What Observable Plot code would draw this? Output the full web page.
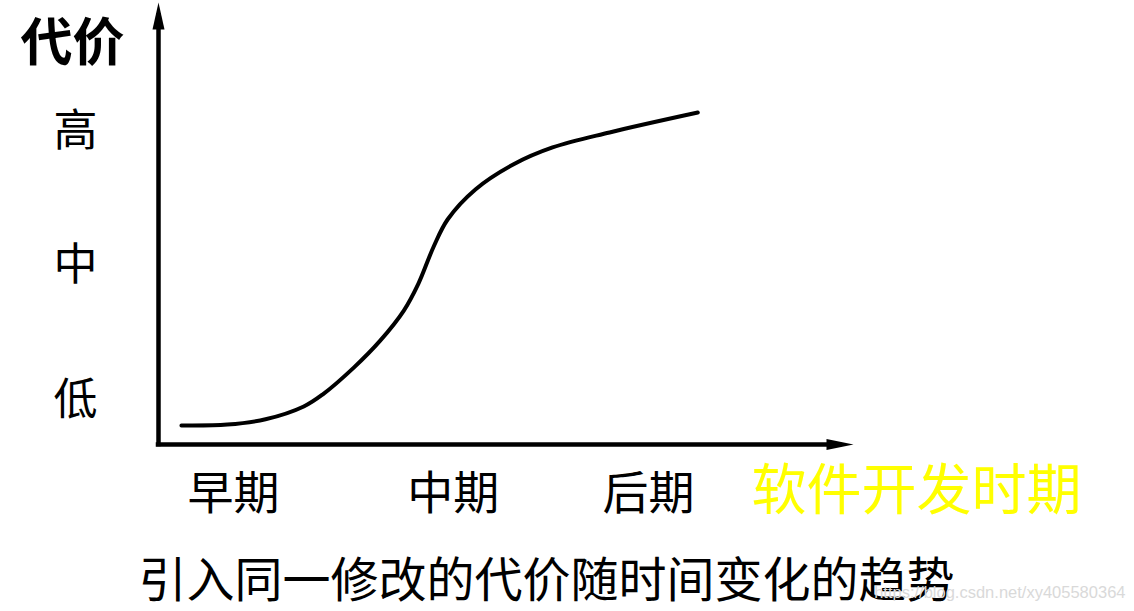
<!DOCTYPE html>
<html><head><meta charset="utf-8">
<script src="https://cdn.jsdelivr.net/npm/d3@7"></script>
<script src="https://cdn.jsdelivr.net/npm/@observablehq/plot@0.6"></script>
<style>html,body{margin:0;padding:0;background:#fff} svg{display:block}</style>
</head><body><div id="chart"></div>
<script>
// Data (x: development period, y: cost)
const periodX = [3.3, 9.9, 15.4, 20.9, 23.6, 28.1, 31.9, 35.3, 37.4, 39.6, 41.6, 45.6, 51.1, 56.7, 64.9, 77.6];
const costY   = [4.3, 4.5, 5.7, 8.6, 11.3, 17.4, 23.5, 30.3, 36.4, 44.8, 50.9, 57.7, 63.4, 67.2, 70.6, 75.1];
const yTickValues = [70.7, 40.4, 9.8];
const yTickLabels = ["高", "中", "低"];
const xTickValues = [10.8, 42.4, 70.5];
const xTickLabels = ["早期", "中期", "后期"];
const xDomain = [0, 100];
const yDomain = [0, 100];
const yAxisTitle = "代价";
const xAxisTitle = "软件开发时期";
const caption = "引入同一修改的代价随时间变化的趋势";
const watermark = "https://blog.csdn.net/xy405580364";

const curve = periodX.map((x, i) => ({x, y: costY[i]}));
const yTicks = yTickLabels.map((label, i) => ({label, y: yTickValues[i]}));
const xTicks = xTickLabels.map((label, i) => ({label, x: xTickValues[i]}));

const arrowUp = {draw(ctx) { ctx.moveTo(0, 0); ctx.lineTo(6, 27); ctx.lineTo(-6, 27); ctx.closePath(); }};
const arrowRight = {draw(ctx) { ctx.moveTo(0, 0); ctx.lineTo(-27, 5.5); ctx.lineTo(-27, -5.5); ctx.closePath(); }};

const cjk = "'Noto Sans CJK SC', 'Noto Sans', sans-serif";
const mid = {textAnchor: "middle", lineAnchor: "middle"};

const chart = Plot.plot({
  width: 1134,
  height: 611,
  marginLeft: 158,
  marginRight: 281,
  marginTop: 2,
  marginBottom: 167,
  x: {domain: xDomain, axis: null},
  y: {domain: yDomain, axis: null},
  style: {fontFamily: cjk, background: "white", color: "black"},
  marks: [
    Plot.ruleX([xDomain[0]], {y1: yDomain[0], y2: yDomain[1] - 3, stroke: "black", strokeWidth: 4.5, strokeLinecap: "square"}),
    Plot.ruleY([yDomain[0]], {x1: xDomain[0], x2: xDomain[1] - 2, stroke: "black", strokeWidth: 4.5, strokeLinecap: "square"}),
    Plot.dot([[xDomain[0], yDomain[1]]], {symbol: arrowUp, fill: "black", stroke: null}),
    Plot.dot([[xDomain[1], yDomain[0]]], {symbol: arrowRight, fill: "black", stroke: null}),
    Plot.line(curve, {x: "x", y: "y", curve: "catmull-rom", stroke: "black", strokeWidth: 4}),
    Plot.text(yTicks, {...mid, y: "y", text: "label", frameAnchor: "left", dx: -83, fontSize: 44, fill: "black"}),
    Plot.text(xTicks, {...mid, x: "x", text: "label", frameAnchor: "bottom", dy: 50, fontSize: 46, fill: "black"}),
    Plot.text([yAxisTitle], {...mid, text: d => d, frameAnchor: "top-left", dx: -86, dy: 42, fontSize: 52, fontWeight: "bold", fill: "black"}),
    Plot.text([xAxisTitle], {...mid, text: d => d, frameAnchor: "bottom-right", dx: 63, dy: 47, fontSize: 55, fill: "#ffff00"}),
    Plot.text([caption], {...mid, text: d => d, frameAnchor: "bottom", dx: 40.5, dy: 137, fontSize: 48, fill: "black"}),
    Plot.text([watermark], {text: d => d, frameAnchor: "bottom-right", textAnchor: "end", lineAnchor: "middle", dx: 272, dy: 148, fontSize: 16.5, fill: "#d9d9d9", fontFamily: "'Liberation Sans', Arial, sans-serif"})
  ]
});
document.getElementById("chart").appendChild(chart);
</script>
</body></html>
